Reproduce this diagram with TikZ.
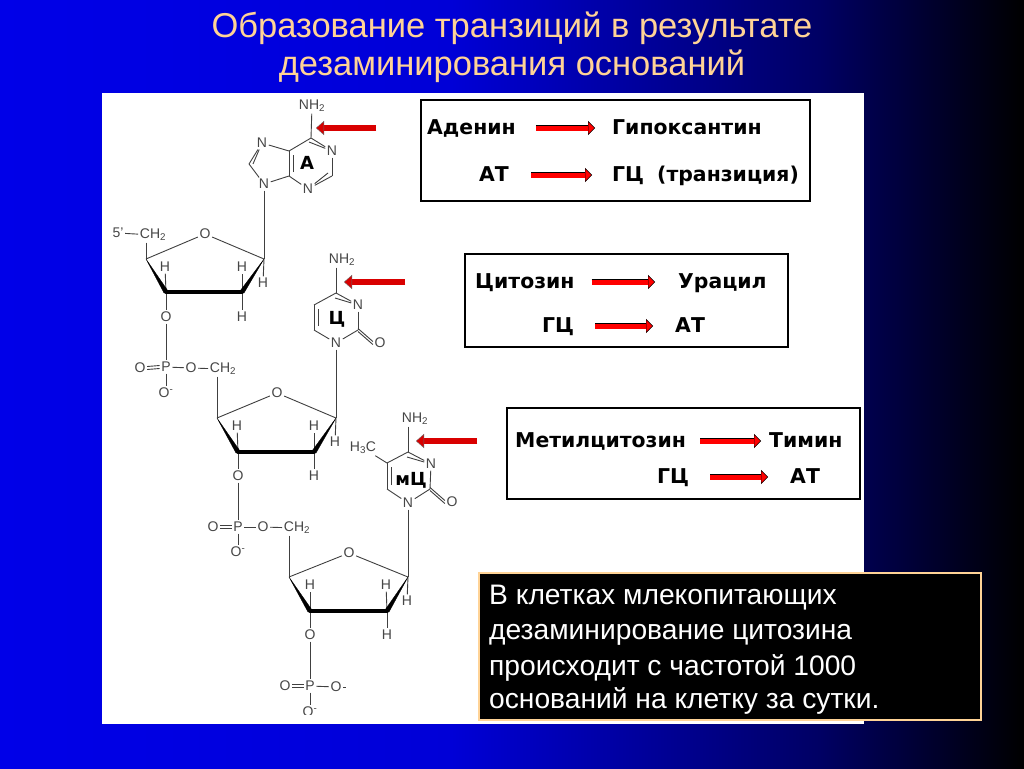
\documentclass[tikz,border=0pt]{standalone}
\usepackage{fontspec}
\setmainfont{Liberation Sans}
\newfontfamily\boxfont{DejaVu Sans}
\usetikzlibrary{arrows.meta}
\definecolor{peach}{RGB}{255,211,150}
\definecolor{atomgray}{RGB}{70,70,70}
\definecolor{bgone}{RGB}{0,0,232}
\definecolor{bgtwo}{RGB}{0,0,215}
\definecolor{bgthree}{RGB}{0,0,100}
\pgfdeclarehorizontalshading{slidebg}{100bp}{
  color(0bp)=(bgone);
  color(25bp)=(bgone);
  color(47bp)=(bgtwo);
  color(65bp)=(bgthree);
  color(75bp)=(black);
  color(100bp)=(black)}
\tikzset{
  atom/.style={text=atomgray,font=\fontsize{14}{14}\selectfont,inner sep=1.5pt},
  bond/.style={draw=black!75,line width=0.9pt},
  thickbond/.style={draw=black,line width=4pt,line cap=round},
  wedge/.style={fill=black,draw=black,line width=0.3pt},
  base/.style={font=\fontsize{18}{18}\bfseries\boxfont\selectfont,inner sep=0pt,text=black},
  frame/.style={draw=black,line width=2.6pt,fill=white},
  chem/.style={font=\fontsize{20.4}{20.4}\bfseries\boxfont\selectfont,text=black,inner sep=0pt,text height=15pt,text depth=2pt},
  redarrow/.style={draw=black,line width=0.4pt,double=red,double distance=5pt,
    -{Triangle[fill=red,color=black,line width=0.4pt,length=7pt,width=14pt]}},
  bigarrow/.style={draw=black!60,line width=0.4pt,double=red!85!black,double distance=5.5pt,
    -{Triangle[fill=red!85!black,color=black!60,line width=0.4pt,length=8pt,width=14pt]}},
  title/.style={text=peach,font=\fontsize{34.5}{34.5}\selectfont,inner sep=0pt},
  note/.style={text=white,font=\fontsize{28.2}{28.2}\selectfont,inner sep=0pt,anchor=base west},
}
\begin{document}
\begin{tikzpicture}[x=1pt,y=-1pt]
\useasboundingbox (0,0) rectangle (1024,768);
\shade[shading=slidebg] (0,0) rectangle (1024,768);
\fill[white] (102,93) rectangle (864,724);

\node[title] (title1) at (512,28) {Образование транзиций в результате};
\node[title] (title2) at (512,66) {дезаминирования оснований};

% adenine
\node[atom] (nh2a) at (312,106) {NH\textsubscript{2}};
\coordinate (c6a) at (311,138);
\node[atom] (n1a) at (332,151) {N};
\coordinate (c2a) at (332,176);
\node[atom] (n3a) at (308,189) {N};
\coordinate (c4a) at (289,176);
\coordinate (c5a) at (289,151);
\node[atom] (n7a) at (262,143) {N};
\coordinate (c8a) at (249,164);
\node[atom] (n9a) at (264,184) {N};
\path[bond] (nh2a) -- (c6a);
\path[bond] (c6a) -- (n1a);
\path[bond] ([shift={(-2,4)}]c6a) -- ([shift={(-6,-2)}]n1a);
\path[bond] (n1a) -- (c2a);
\path[bond] (c2a) -- (n3a);
\path[bond] ([shift={(-4,-3)}]c2a) -- ([shift={(2,-5)}]n3a);
\path[bond] (n3a) -- (c4a);
\path[bond] (c4a) -- (c5a);
\path[bond] ([shift={(4,-4)}]c4a) -- ([shift={(4,4)}]c5a);
\path[bond] (c5a) -- (c6a);
\path[bond] (c5a) -- (n7a);
\path[bond] (n7a) -- (c8a);
\path[bond] ([shift={(-2,3)}]n7a) -- ([shift={(4,0)}]c8a);
\path[bond] (c8a) -- (n9a);
\path[bond] (n9a) -- (c4a);
\node[base] (labela) at (307,163) {А};

% cytosine
\node[atom] (nh2c) at (342,260) {NH\textsubscript{2}};
\coordinate (c4c) at (336,293);
\node[atom] (n3c) at (358,305) {N};
\coordinate (c2c) at (358,330);
\node[atom] (n1c) at (336,343) {N};
\coordinate (c6c) at (314,330);
\coordinate (c5c) at (314,305);
\node[atom] (o2c) at (380,343) {O};
\path[bond] ([xshift=-6]nh2c.south) -- (c4c);
\path[bond] (c4c) -- (n3c);
\path[bond] ([shift={(-1,5)}]c4c) -- ([shift={(-5,-3)}]n3c);
\path[bond] (n3c) -- (c2c);
\path[bond] (c2c) -- (n1c);
\path[bond] (n1c) -- (c6c);
\path[bond] (c6c) -- (c5c);
\path[bond] ([shift={(4,-4)}]c6c) -- ([shift={(4,4)}]c5c);
\path[bond] (c5c) -- (c4c);
\path[bond] ([yshift=-1.5]c2c) -- ([yshift=-1.5]o2c.west);
\path[bond] ([yshift=1.5]c2c) -- ([yshift=1.5]o2c.west);
\node[base] (labelc) at (337,319) {Ц};

% methylcytosine
\node[atom] (nh2m) at (415,419) {NH\textsubscript{2}};
\coordinate (c4m) at (408,452);
\node[atom] (n3m) at (431,464) {N};
\coordinate (c2m) at (430,489);
\node[atom] (n1m) at (408,503) {N};
\coordinate (c6m) at (387,489);
\coordinate (c5m) at (387,463);
\node[atom] (o2m) at (452,502) {O};
\node[atom] (h3c) at (363,448) {H\textsubscript{3}C};
\path[bond] ([xshift=-7]nh2m.south) -- (c4m);
\path[bond] (c4m) -- (n3m);
\path[bond] ([shift={(-1,5)}]c4m) -- ([shift={(-5,-3)}]n3m);
\path[bond] (n3m) -- (c2m);
\path[bond] (c2m) -- (n1m);
\path[bond] (n1m) -- (c6m);
\path[bond] (c6m) -- (c5m);
\path[bond] ([shift={(4,-4)}]c6m) -- ([shift={(4,4)}]c5m);
\path[bond] (c5m) -- (c4m);
\path[bond] (c5m) -- (h3c);
\path[bond] ([yshift=-1.5]c2m) -- ([yshift=-1.5]o2m.west);
\path[bond] ([yshift=1.5]c2m) -- ([yshift=1.5]o2m.west);
\node[base] (labelm) at (411,480) {мЦ};

% first sugar
\node[atom] (five) at (118,233) {5'};
\node[atom] (ch2a) at (153,235) {CH\textsubscript{2}};
\node[atom] (oa) at (205,234) {O};
\coordinate (c1a) at (264,259);
\coordinate (c2sa) at (242,292);
\coordinate (c3a) at (166,292);
\coordinate (c4sa) at (146,259);
\node[atom] (h1a) at (263,283) {H};
\node[atom] (h2a) at (242,267) {H};
\node[atom] (h3a) at (165,267) {H};
\node[atom] (h4a) at (242,317) {H};
\node[atom] (o3a) at (166,317) {O};
\path[bond] (five) -- (ch2a);
\path[bond] (ch2a.south -| c4sa) -- (c4sa);
\path[bond] (c4sa) -- (oa);
\path[bond] (oa) -- (c1a);
\path[bond] (n9a) -- (c1a);
\path[bond] (c1a) -- (h1a);
\path[bond] (c2sa) -- (h2a);
\path[bond] (c2sa) -- (h4a);
\path[bond] (c3a) -- (h3a);
\path[bond] (c3a) -- (o3a);
\fill[wedge] (c4sa) -- ([shift={(-2,1)}]c3a) -- ([shift={(2,-1)}]c3a) -- cycle;
\fill[wedge] (c1a) -- ([shift={(2,1)}]c2sa) -- ([shift={(-2,-1)}]c2sa) -- cycle;
\path[thickbond] (c3a) -- (c2sa);

% first phosphate
\node[atom] (pa) at (166,367) {P};
\node[atom] (odba) at (140,368) {O};
\node[atom] (omina) at (166,393) {O\textsuperscript{-}};
\node[atom] (oba) at (191,368) {O};
\node[atom] (ch2b) at (223,369) {CH\textsubscript{2}};
\path[bond] (o3a) -- (pa);
\path[bond] ([yshift=-1.5]odba.east) -- ([yshift=-1.5]pa.west);
\path[bond] ([yshift=1.5]odba.east) -- ([yshift=1.5]pa.west);
\path[bond] (pa) -- (omina.north -| pa);
\path[bond] (pa) -- (oba);
\path[bond] (oba) -- (ch2b);

% second sugar
\node[atom] (ob) at (277,393) {O};
\coordinate (c1b) at (336,418);
\coordinate (c2sb) at (314,452);
\coordinate (c3b) at (238,452);
\coordinate (c4sb) at (217,418);
\node[atom] (h1b) at (335,442) {H};
\node[atom] (h2b) at (314,426) {H};
\node[atom] (h3b) at (237,426) {H};
\node[atom] (h4b) at (314,476) {H};
\node[atom] (o3b) at (238,476) {O};
\path[bond] (ch2b.south -| c4sb) -- (c4sb);
\path[bond] (c4sb) -- (ob);
\path[bond] (ob) -- (c1b);
\path[bond] (n1c) -- (c1b);
\path[bond] (c1b) -- (h1b);
\path[bond] (c2sb) -- (h2b);
\path[bond] (c2sb) -- (h4b);
\path[bond] (c3b) -- (h3b);
\path[bond] (c3b) -- (o3b);
\fill[wedge] (c4sb) -- ([shift={(-2,1)}]c3b) -- ([shift={(2,-1)}]c3b) -- cycle;
\fill[wedge] (c1b) -- ([shift={(2,1)}]c2sb) -- ([shift={(-2,-1)}]c2sb) -- cycle;
\path[thickbond] (c3b) -- (c2sb);

% second phosphate
\node[atom] (pb) at (238,527) {P};
\node[atom] (odbb) at (213,527) {O};
\node[atom] (ominb) at (238,552) {O\textsuperscript{-}};
\node[atom] (obb) at (263,527) {O};
\node[atom] (ch2c) at (297,528) {CH\textsubscript{2}};
\path[bond] (o3b) -- (pb);
\path[bond] ([yshift=-1.5]odbb.east) -- ([yshift=-1.5]pb.west);
\path[bond] ([yshift=1.5]odbb.east) -- ([yshift=1.5]pb.west);
\path[bond] (pb) -- (ominb.north -| pb);
\path[bond] (pb) -- (obb);
\path[bond] (obb) -- (ch2c);

% third sugar
\node[atom] (oc) at (349,553) {O};
\coordinate (c1c) at (408,577);
\coordinate (c2sc) at (387,611);
\coordinate (c3c) at (310,611);
\coordinate (c4sc) at (289,577);
\node[atom] (h1c) at (407,601) {H};
\node[atom] (h2c) at (386,585) {H};
\node[atom] (h3c2) at (310,585) {H};
\node[atom] (h4c) at (387,635) {H};
\node[atom] (o3c) at (310,635) {O};
\path[bond] (ch2c.south -| c4sc) -- (c4sc);
\path[bond] (c4sc) -- (oc);
\path[bond] (oc) -- (c1c);
\path[bond] (n1m) -- (c1c);
\path[bond] (c1c) -- (h1c);
\path[bond] (c2sc) -- (h2c);
\path[bond] (c2sc) -- (h4c);
\path[bond] (c3c) -- (h3c2);
\path[bond] (c3c) -- (o3c);
\fill[wedge] (c4sc) -- ([shift={(-2,1)}]c3c) -- ([shift={(2,-1)}]c3c) -- cycle;
\fill[wedge] (c1c) -- ([shift={(2,1)}]c2sc) -- ([shift={(-2,-1)}]c2sc) -- cycle;
\path[thickbond] (c3c) -- (c2sc);

% third phosphate
\node[atom] (pc) at (310,686) {P};
\node[atom] (odbc) at (285,686) {O};
\node[atom] (ominc) at (336,687) {O};
\coordinate (endc) at (346,687);
\begin{scope}
\clip (102,93) rectangle (864,714);
\node[atom] (oendc) at (310,712) {O\textsuperscript{-}};
\end{scope}
\path[bond] (o3c) -- (pc);
\path[bond] ([yshift=-1.5]odbc.east) -- ([yshift=-1.5]pc.west);
\path[bond] ([yshift=1.5]odbc.east) -- ([yshift=1.5]pc.west);
\path[bond] (pc) -- (oendc.north -| pc);
\path[bond] (pc) -- (ominc);
\path[bond] (ominc) -- (endc);

% pointers
\coordinate (taila) at (376,128);
\coordinate (heada) at (316,128);
\coordinate (tailc) at (405,282);
\coordinate (headc) at (344,282);
\coordinate (tailm) at (477,441);
\coordinate (headm) at (416,441);
\path[bigarrow] (taila) -- (heada);
\path[bigarrow] (tailc) -- (headc);
\path[bigarrow] (tailm) -- (headm);

% boxes
\draw[frame] (421,100) rectangle (810,201);
\draw[frame] (465,254) rectangle (788,347);
\draw[frame] (507,408) rectangle (860,499);

\node[chem,anchor=west] (aden) at (427,128) {Аденин};
\node[chem,anchor=west] (hypo) at (612,128) {Гипоксантин};
\node[chem,anchor=west] (ata) at (479,175) {АТ};
\node[chem,anchor=west] (gca) at (612,175) {ГЦ\hspace{6pt} (транзиция)};
\node[chem,anchor=west] (cyt) at (475,282) {Цитозин};
\node[chem,anchor=west] (ura) at (678,282) {Урацил};
\node[chem,anchor=west] (gcc) at (542,326) {ГЦ};
\node[chem,anchor=west] (atc) at (675,326) {АТ};
\node[chem,anchor=west] (mcyt) at (515,441) {Метилцитозин};
\node[chem,anchor=west] (thy) at (769,441) {Тимин};
\node[chem,anchor=west] (gcm) at (657,477) {ГЦ};
\node[chem,anchor=west] (atm) at (790,477) {АТ};

\path[redarrow,shorten <=20pt,shorten >=17pt] (aden) -- (hypo);
\path[redarrow,shorten <=22pt,shorten >=20pt] (ata) -- (gca);
\path[redarrow,shorten <=17pt,shorten >=23pt] (cyt) -- (ura);
\path[redarrow,shorten <=21pt,shorten >=22pt] (gcc) -- (atc);
\path[redarrow,shorten <=14pt,shorten >=8pt] (mcyt) -- (thy);
\path[redarrow,shorten <=21pt,shorten >=22pt] (gcm) -- (atm);

% note
\node[draw=peach,line width=2pt,fill=black,outer sep=0pt,minimum width=502pt,minimum height=147pt,anchor=north west,inner sep=0pt] (notebox) at (479,573) {};
\node[note] (note1) at (489,604) {В клетках млекопитающих};
\node[note] (note2) at (489,639) {дезаминирование цитозина};
\node[note] (note3) at (489,675) {происходит с частотой 1000};
\node[note] (note4) at (489,708) {оснований на клетку за сутки.};
\end{tikzpicture}
\end{document}
